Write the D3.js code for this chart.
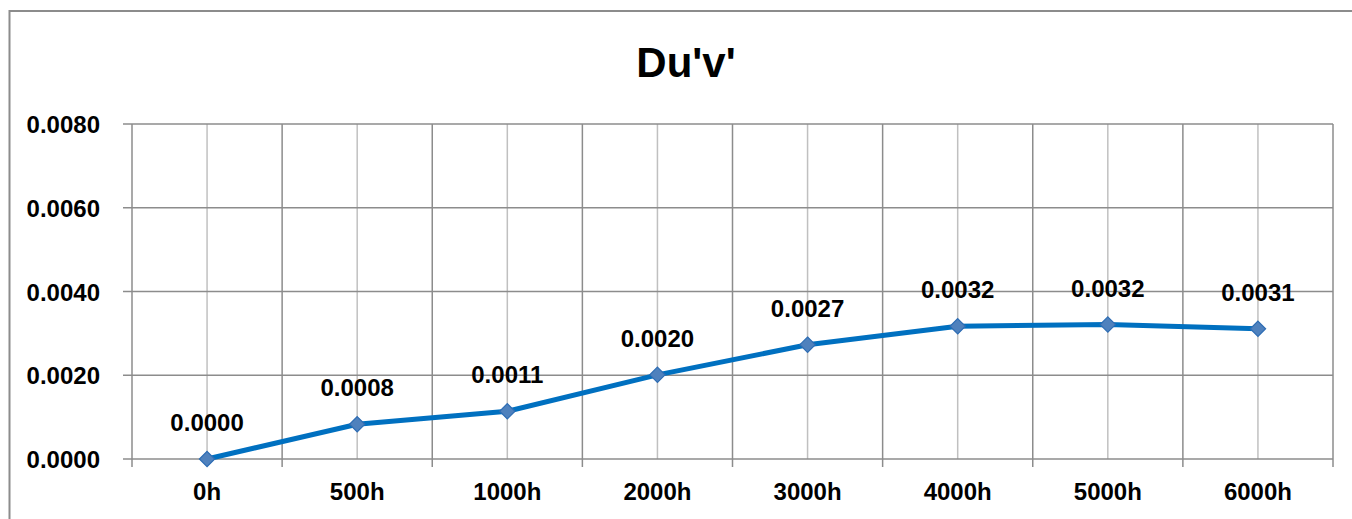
<!DOCTYPE html>
<html>
<head>
<meta charset="utf-8">
<script src="https://cdn.jsdelivr.net/npm/d3@7"></script>
<style>
  html, body { margin: 0; padding: 0; background: #fff; }
  svg { display: block; }
  text { font-family: "Liberation Sans", Arial, sans-serif; font-weight: bold; fill: #000; }
</style>
</head>
<body>
<svg id="chart" width="1352" height="519"></svg>
<script>
const title = "Du'v'";
const categories = ["0h", "500h", "1000h", "2000h", "3000h", "4000h", "5000h", "6000h"];
const values = [0.0000, 0.00083, 0.00114, 0.00201, 0.00273, 0.00317, 0.00321, 0.00311];
const labels = ["0.0000", "0.0008", "0.0011", "0.0020", "0.0027", "0.0032", "0.0032", "0.0031"];
const yTicks = [0, 0.002, 0.004, 0.006, 0.008];

const svg = d3.select("#chart");
const W = 1352, H = 519;
const m = { left: 132, right: 1333, top: 124, bottom: 459 };

// outer frame
svg.append("rect").attr("x", 9.5).attr("y", 11).attr("width", 1400).attr("height", 600)
  .attr("fill", "none").attr("stroke", "#8c8c8c").attr("stroke-width", 2);

// title
svg.append("text").attr("x", 686).attr("y", 77).attr("text-anchor", "middle")
  .style("font-size", "42px").text(title);

const x = d3.scaleBand().domain(categories).range([m.left, m.right]).padding(0);
const y = d3.scaleLinear().domain([0, 0.008]).range([m.bottom, m.top]);

const g = svg.append("g");

// minor vertical grid (category centers)
g.selectAll("line.vminor").data(categories).join("line")
  .attr("x1", d => x(d) + x.bandwidth() / 2).attr("x2", d => x(d) + x.bandwidth() / 2)
  .attr("y1", m.top).attr("y2", m.bottom)
  .attr("stroke", "#c0c0c0").attr("stroke-width", 1.5);

// major vertical grid (category boundaries) with ticks below axis
const bounds = categories.map(d => x(d)).concat([m.right]);
g.selectAll("line.vmajor").data(bounds).join("line")
  .attr("x1", d => d).attr("x2", d => d)
  .attr("y1", m.top).attr("y2", m.bottom + 8)
  .attr("stroke", "#8c8c8c").attr("stroke-width", 1.5);

// horizontal grid with ticks left
g.selectAll("line.h").data(yTicks).join("line")
  .attr("x1", m.left - 9).attr("x2", m.right)
  .attr("y1", d => y(d)).attr("y2", d => y(d))
  .attr("stroke", "#8c8c8c").attr("stroke-width", 1.5);

// y axis labels
const yAxis = d3.axisLeft(y).tickValues(yTicks).tickFormat(d3.format(".4f")).tickSize(0).tickPadding(0);
const ya = svg.append("g").attr("transform", `translate(100,0)`).call(yAxis);
ya.select(".domain").remove();
ya.selectAll("text").style("font-size", "24px").style("font-family", "Liberation Sans, Arial, sans-serif")
  .style("font-weight", "bold").attr("fill", "#000").attr("dy", "0.36em");

// x axis labels
const xAxis = d3.axisBottom(x).tickSize(0).tickPadding(0);
const xa = svg.append("g").attr("transform", `translate(0,483)`).call(xAxis);
xa.select(".domain").remove();
xa.selectAll("text").style("font-size", "24px").style("font-family", "Liberation Sans, Arial, sans-serif")
  .style("font-weight", "bold").attr("fill", "#000").attr("dy", "0.71em");

// line
const cx = d => x(d) + x.bandwidth() / 2;
const line = d3.line().x((d, i) => cx(categories[i])).y(d => y(d));
svg.append("path").datum(values).attr("d", line)
  .attr("fill", "none").attr("stroke", "#0070C0").attr("stroke-width", 5)
  .attr("stroke-linejoin", "round");

// markers
const sym = d3.symbol().type(d3.symbolDiamond2).size(150);
svg.selectAll("path.mk").data(values).join("path")
  .attr("transform", (d, i) => `translate(${cx(categories[i])},${y(d)}) rotate(0)`)
  .attr("d", sym)
  .attr("fill", "#4F81BD").attr("stroke", "#2E6DB4").attr("stroke-width", 1.2);

// data labels
svg.selectAll("text.lbl").data(values).join("text")
  .attr("x", (d, i) => cx(categories[i])).attr("y", d => y(d) - 28)
  .attr("text-anchor", "middle").style("font-size", "24px")
  .text((d, i) => labels[i]);
</script>
</body>
</html>
